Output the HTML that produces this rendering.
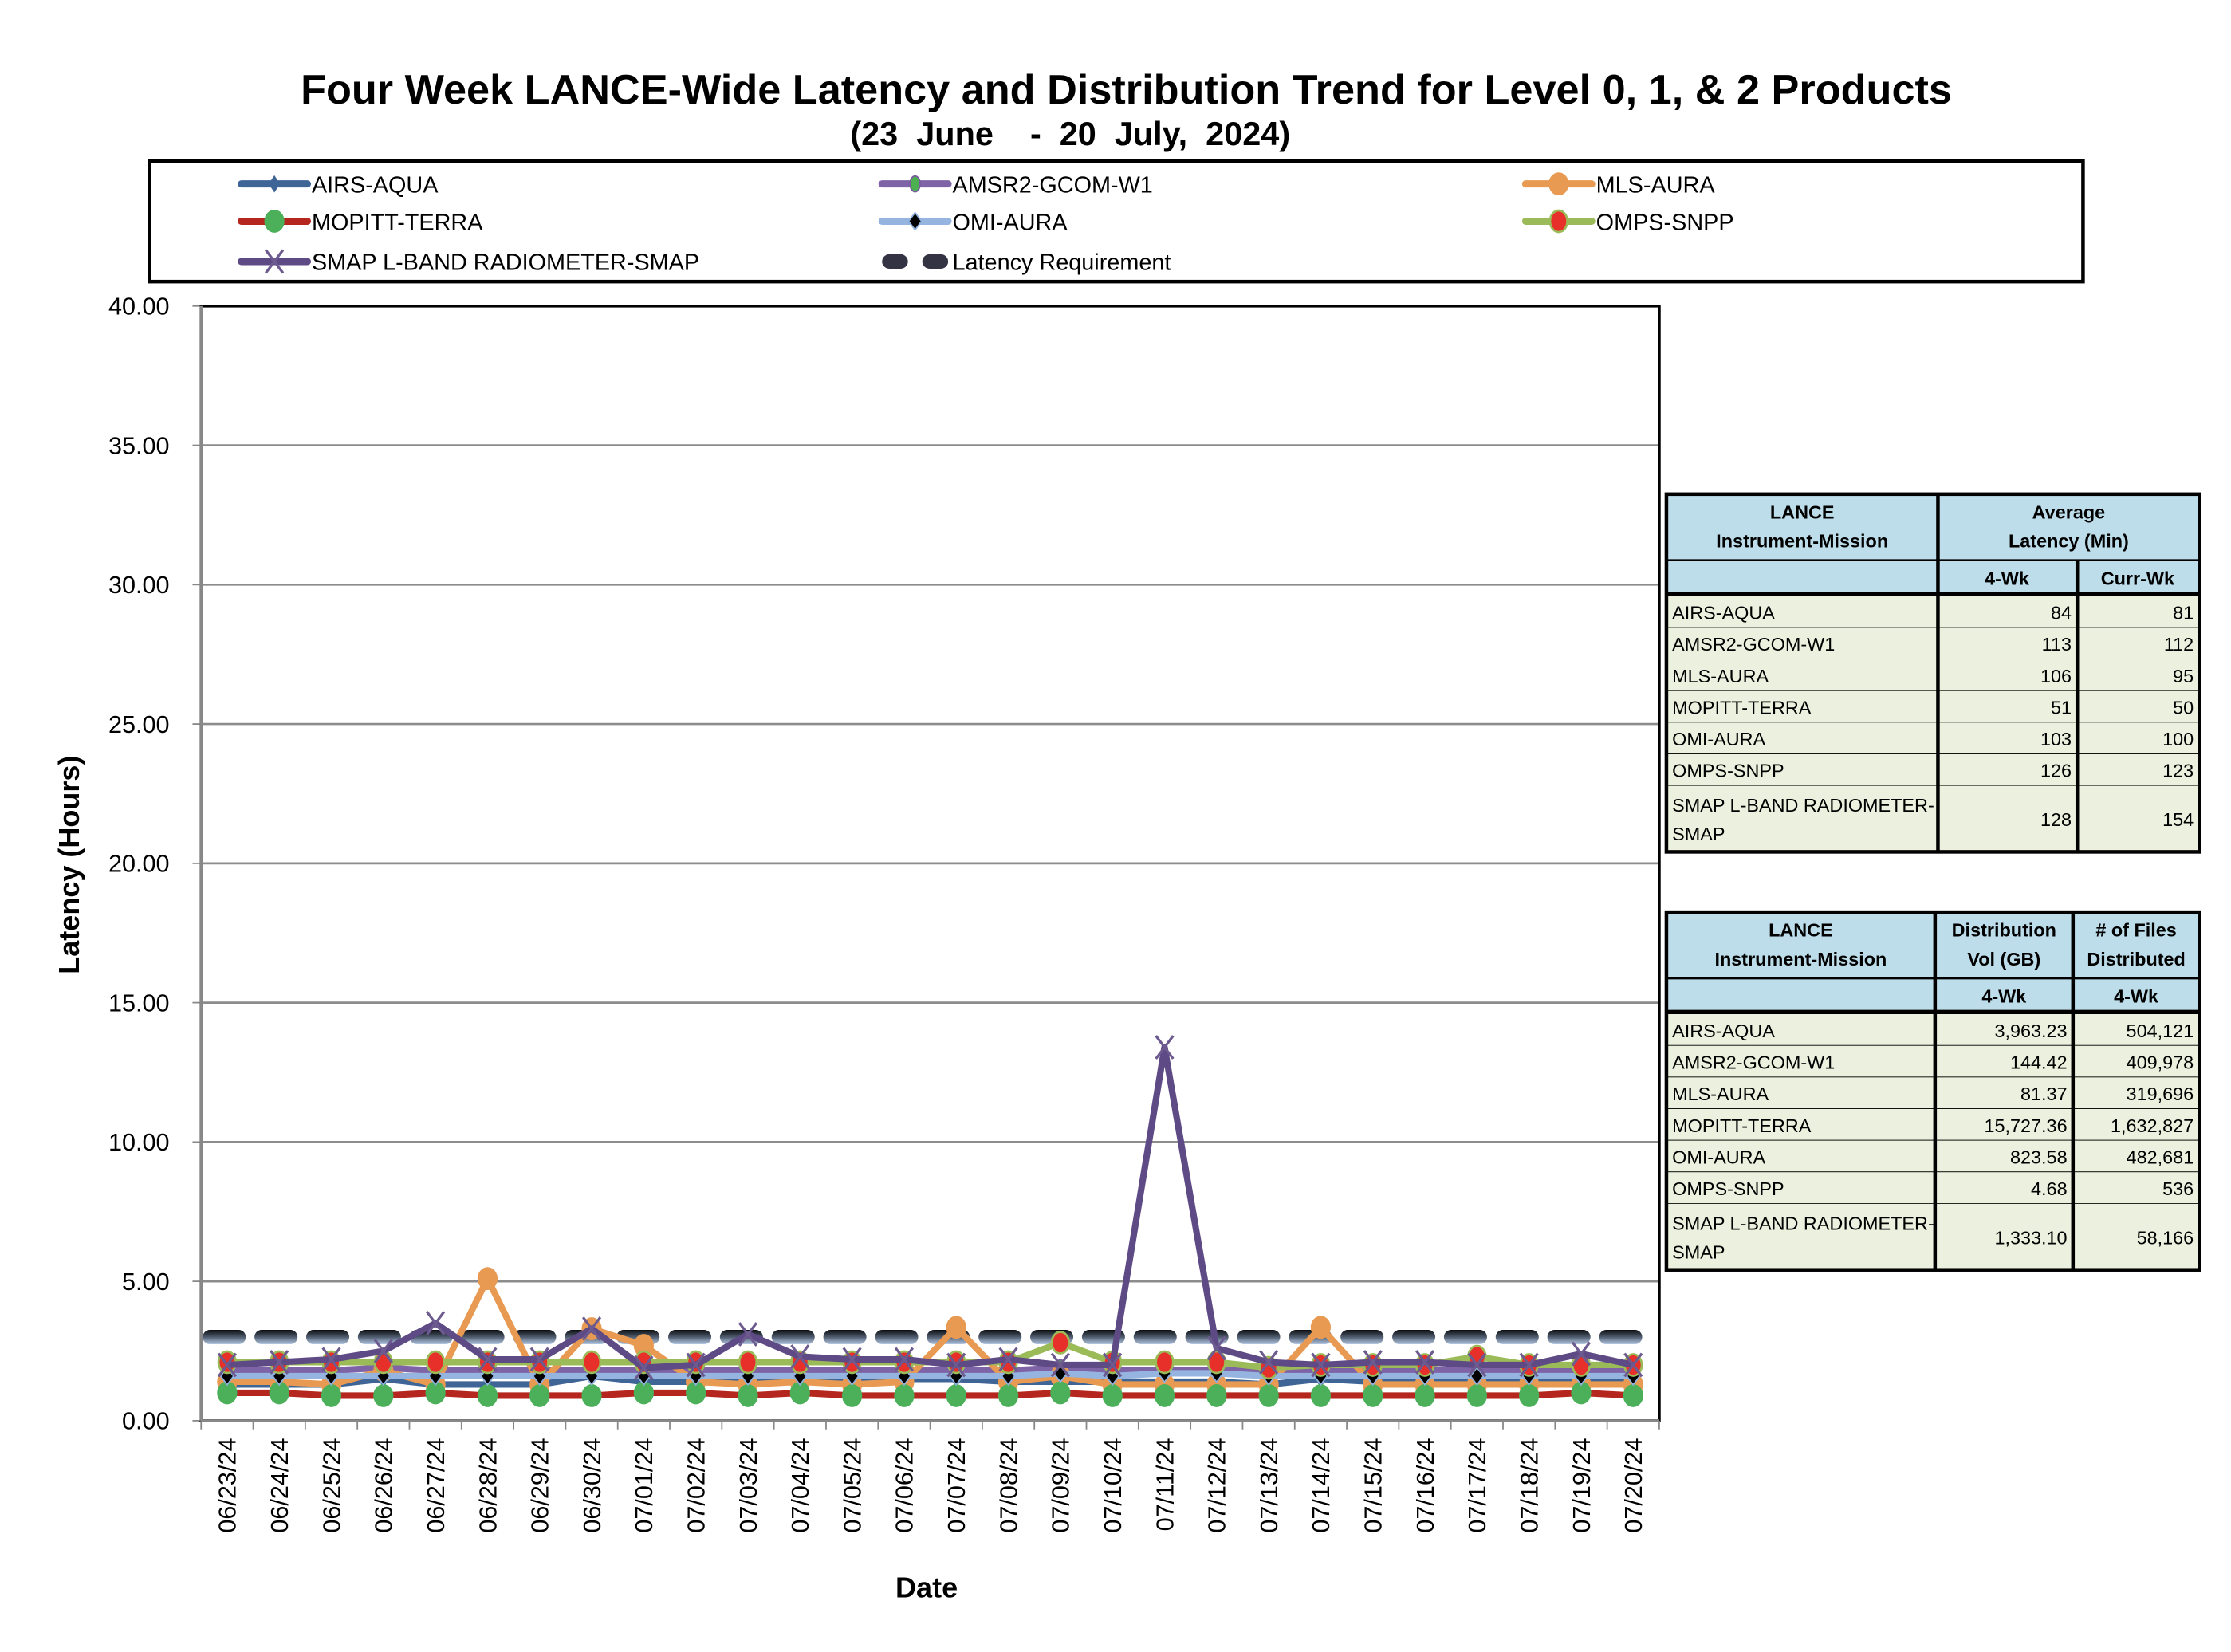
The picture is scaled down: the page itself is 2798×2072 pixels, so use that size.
<!DOCTYPE html>
<html><head><meta charset="utf-8"><style>
html,body{margin:0;padding:0;background:#fff;}
svg{display:block;font-family:"Liberation Sans",Arial,sans-serif;}
</style></head><body>
<svg id="chart" width="2798" height="2072" viewBox="0 0 1553 1150" xmlns="http://www.w3.org/2000/svg">
<defs>
<linearGradient id="reqGrad" gradientUnits="userSpaceOnUse" x1="0" y1="925" x2="0" y2="936">
<stop offset="0" stop-color="#000"/><stop offset="0.5" stop-color="#4a5668"/><stop offset="1" stop-color="#b8cde8"/>
</linearGradient>
</defs>
<text x="784" y="72" text-anchor="middle" font-size="29" font-weight="bold">Four Week LANCE-Wide Latency and Distribution Trend for Level 0, 1, &amp; 2 Products</text>
<text x="745" y="101" text-anchor="middle" font-size="23" font-weight="bold" xml:space="preserve">(23  June    -  20  July,  2024)</text>
<rect x="104" y="112" width="1346" height="84" fill="#fff" stroke="#000" stroke-width="2.5"/>
<g id="legend"></g>
<g id="grid"></g>
<g id="series"></g>
<g id="tables"></g>
<text transform="translate(55,602) rotate(-90)" text-anchor="middle" font-size="20" font-weight="bold">Latency (Hours)</text>
<text x="645" y="1112" text-anchor="middle" font-size="20" font-weight="bold">Date</text>
</svg>
<script>
const categories = ["06/23/24","06/24/24","06/25/24","06/26/24","06/27/24","06/28/24","06/29/24","06/30/24","07/01/24","07/02/24","07/03/24","07/04/24","07/05/24","07/06/24","07/07/24","07/08/24","07/09/24","07/10/24","07/11/24","07/12/24","07/13/24","07/14/24","07/15/24","07/16/24","07/17/24","07/18/24","07/19/24","07/20/24"];
const yTicks = [0,5,10,15,20,25,30,35,40];
const airsAqua = [1.3,1.3,1.3,1.5,1.3,1.3,1.3,1.6,1.4,1.4,1.4,1.5,1.5,1.5,1.5,1.4,1.4,1.4,1.4,1.4,1.3,1.5,1.4,1.4,1.4,1.4,1.4,1.4];
const amsr2 = [1.8,1.8,1.8,1.9,1.8,1.8,1.8,1.8,1.8,1.8,1.8,1.8,1.8,1.8,1.8,1.8,1.9,1.8,1.8,1.8,1.8,1.8,1.8,1.8,1.8,1.8,1.8,1.8];
const mlsAura = [1.4,1.4,1.3,1.8,1.3,5.1,1.3,3.3,2.7,1.4,1.3,1.4,1.3,1.4,3.35,1.4,1.6,1.3,1.3,1.3,1.3,3.35,1.3,1.3,1.3,1.3,1.3,1.3];
const mopitt = [1.0,1.0,0.9,0.9,1.0,0.9,0.9,0.9,1.0,1.0,0.9,1.0,0.9,0.9,0.9,0.9,1.0,0.9,0.9,0.9,0.9,0.9,0.9,0.9,0.9,0.9,1.0,0.9];
const omiAura = [1.6,1.6,1.6,1.6,1.6,1.6,1.6,1.6,1.6,1.6,1.6,1.6,1.6,1.6,1.6,1.6,1.7,1.6,1.7,1.7,1.6,1.6,1.6,1.6,1.6,1.6,1.6,1.6];
const ompsSnpp = [2.1,2.1,2.1,2.1,2.1,2.1,2.1,2.1,2.1,2.1,2.1,2.1,2.1,2.1,2.1,2.1,2.8,2.1,2.1,2.1,1.9,2.0,2.0,2.0,2.3,2.0,2.0,2.0];
const smap = [2.0,2.1,2.2,2.5,3.5,2.2,2.2,3.3,1.9,2.0,3.1,2.3,2.2,2.2,2.0,2.2,2.0,2.0,13.4,2.6,2.1,2.0,2.1,2.1,2.0,2.0,2.4,2.0];
const requirement = [3,3,3,3,3,3,3,3,3,3,3,3,3,3,3,3,3,3,3,3,3,3,3,3,3,3,3,3];
const avgRows = [["AIRS-AQUA","84","81"],["AMSR2-GCOM-W1","113","112"],["MLS-AURA","106","95"],["MOPITT-TERRA","51","50"],["OMI-AURA","103","100"],["OMPS-SNPP","126","123"],["SMAP L-BAND RADIOMETER-|SMAP","128","154"]];
const distRows = [["AIRS-AQUA","3,963.23","504,121"],["AMSR2-GCOM-W1","144.42","409,978"],["MLS-AURA","81.37","319,696"],["MOPITT-TERRA","15,727.36","1,632,827"],["OMI-AURA","823.58","482,681"],["OMPS-SNPP","4.68","536"],["SMAP L-BAND RADIOMETER-|SMAP","1,333.10","58,166"]];

const NS="http://www.w3.org/2000/svg";
const PL=140,PR=1155,PT=213,PB=989;
function xS(i){return PL+(PR-PL)/categories.length*(i+0.5);}
function yS(v){return PB-(PB-PT)*v/40;}
function mk(tag,attrs,parent,text){const e=document.createElementNS(NS,tag);for(const k in attrs)e.setAttribute(k,attrs[k]);if(text!==undefined)e.textContent=text;parent.appendChild(e);return e;}

const grid=document.getElementById('grid');
yTicks.forEach(t=>{
  if(t>0){const g=mk('line',{x1:PL,x2:PR,y1:yS(t),y2:yS(t),stroke:'#8c8c8c','stroke-width':1.5},grid);
  
  }
  const lb=mk('text',{x:118,y:yS(t)+6,'text-anchor':'end','font-size':17},grid,t.toFixed(2));
  
  
  mk('line',{x1:PL-6,x2:PL,y1:yS(t),y2:yS(t),stroke:'#888','stroke-width':1},grid);
});
const frame=mk('rect',{x:PL,y:PT,width:PR-PL,height:PB-PT,fill:'none',stroke:'#000','stroke-width':2},grid);


mk('line',{x1:PL,x2:PL,y1:PT,y2:PB,stroke:'#888','stroke-width':2},grid);
mk('line',{x1:PL,x2:PR,y1:PB,y2:PB,stroke:'#888','stroke-width':2},grid);
categories.forEach((c,i)=>{
  const bx=PL+(PR-PL)/categories.length*i;
  mk('line',{x1:bx,x2:bx,y1:PB,y2:PB+6,stroke:'#888','stroke-width':1},grid);
  const t=mk('text',{transform:`translate(${xS(i)+6},${PB+12}) rotate(-90)`,'text-anchor':'end','font-size':17},grid,c);
  
  
});
mk('line',{x1:PR,x2:PR,y1:PB,y2:PB+6,stroke:'#888','stroke-width':1},grid);

const S=document.getElementById('series');
function pts(arr){return arr.map((v,i)=>xS(i)+','+yS(v)).join(' ');}
function marker(g,type,x,y){
  if(type==='diamondBlue') mk('polygon',{points:`${x},${y-6} ${x+4},${y} ${x},${y+6} ${x-4},${y}`,fill:'#3f6597'},g);
  else if(type==='circleSmallGreen') mk('ellipse',{cx:x,cy:y,rx:3.5,ry:5.5,fill:'#4caf50',stroke:'#7a5b9e','stroke-width':1},g);
  else if(type==='circleOrange') mk('ellipse',{cx:x,cy:y,rx:7,ry:8,fill:'#e89a52'},g);
  else if(type==='circleGreen') mk('ellipse',{cx:x,cy:y,rx:7,ry:8,fill:'#4caf5a'},g);
  else if(type==='diamondBlack') mk('polygon',{points:`${x},${y-6} ${x+4.5},${y} ${x},${y+6} ${x-4.5},${y}`,fill:'#000',stroke:'#8fb0dd','stroke-width':1},g);
  else if(type==='circleRed') mk('ellipse',{cx:x,cy:y,rx:6,ry:7.5,fill:'#e8302a',stroke:'#9bbb59','stroke-width':1.5},g);
  else if(type==='x'){mk('line',{x1:x-6,y1:y-8,x2:x+6,y2:y+8,stroke:'#6d5b8f','stroke-width':1.8},g);mk('line',{x1:x+6,y1:y-8,x2:x-6,y2:y+8,stroke:'#6d5b8f','stroke-width':1.8},g);}
}
const reqG=mk('g',{},S);


mk('polyline',{points:(xS(0)-12)+','+yS(requirement[0])+' '+pts(requirement)+' '+(xS(categories.length-1)+12)+','+yS(requirement[0]),fill:'none',stroke:'url(#reqGrad)','stroke-width':10,'stroke-linecap':'round','stroke-dasharray':'20 16'},reqG);
const seriesDefs=[
  ['series-airs-aqua',airsAqua,'#3f6597','diamondBlue'],
  ['series-amsr2-gcom-w1',amsr2,'#7e63a6','circleSmallGreen'],
  ['series-mls-aura',mlsAura,'#e89a52','circleOrange'],
  ['series-mopitt-terra',mopitt,'#b5261e','circleGreen'],
  ['series-omi-aura',omiAura,'#95b4e0','diamondBlack'],
  ['series-omps-snpp',ompsSnpp,'#9bbb59','circleRed'],
  ['series-smap',smap,'#5e4a85','x']
];
seriesDefs.forEach(d=>{
  const g=mk('g',{},S);
  
  
  mk('polyline',{points:pts(d[1]),fill:'none',stroke:d[2],'stroke-width':4.5,'stroke-linejoin':'round'},g);
  d[1].forEach((v,i)=>marker(g,d[3],xS(i),yS(v)));
});

// legend
const L=document.getElementById('legend');
const legendItems=[
  ['AIRS-AQUA','#3f6597','diamondBlue',168,128],['AMSR2-GCOM-W1','#7e63a6','circleSmallGreen',614,128],['MLS-AURA','#e89a52','circleOrange',1062,128],
  ['MOPITT-TERRA','#b5261e','circleGreen',168,154],['OMI-AURA','#95b4e0','diamondBlack',614,154],['OMPS-SNPP','#9bbb59','circleRed',1062,154],
  ['SMAP L-BAND RADIOMETER-SMAP','#5e4a85','x',168,182],['Latency Requirement','req','req',614,182]
];
legendItems.forEach(it=>{
  const g=mk('g',{},L);
  
  
  const x=it[3],y=it[4];
  if(it[1]==='req'){
    mk('rect',{x:x,y:y-5,width:18,height:10,rx:5,fill:'#334'},g);
    mk('rect',{x:x+28,y:y-5,width:18,height:10,rx:5,fill:'#334'},g);
  } else {
    mk('line',{x1:x,x2:x+46,y1:y,y2:y,stroke:it[1],'stroke-width':5,'stroke-linecap':'round'},g);
    marker(g,it[2],x+23,y);
  }
  mk('text',{x:x+49,y:y+6,'font-size':16},g,it[0]);
});

// tables
const T=document.getElementById('tables');
function table(name,top,cols,h1,h2,rows){
  const g=mk('g',{},T);
  
  
  const x0=cols[0],x3=cols[3];
  const hy=top, sy=top+46, ry=sy+22;
  mk('rect',{x:x0,y:hy,width:x3-x0,height:68,fill:'#bcdde9'},g);
  const rH=[22,22,22,22,22,22,46];
  let yy=ry+3;
  rows.forEach((r,ri)=>{
    mk('rect',{x:x0,y:yy,width:x3-x0,height:rH[ri],fill:'#ebf1de'},g);
    const lines=r[0].split('|');
    if(lines.length===1) mk('text',{x:x0+4,y:yy+16,'font-size':13},g,lines[0]);
    else {mk('text',{x:x0+4,y:yy+18,'font-size':13},g,lines[0]);mk('text',{x:x0+4,y:yy+38,'font-size':13},g,lines[1]);}
    const cy = lines.length===1? yy+16 : yy+28;
    mk('text',{x:cols[2]-4,y:cy,'font-size':13,'text-anchor':'end'},g,r[1]);
    mk('text',{x:cols[3]-4,y:cy,'font-size':13,'text-anchor':'end'},g,r[2]);
    mk('line',{x1:x0,x2:x3,y1:yy+rH[ri],y2:yy+rH[ri],stroke:'#000','stroke-width':1},g);
    yy+=rH[ri];
  });
  // header texts
  mk('text',{x:(cols[0]+cols[1])/2,y:hy+17,'font-size':13,'font-weight':'bold','text-anchor':'middle'},g,'LANCE');
  mk('text',{x:(cols[0]+cols[1])/2,y:hy+37,'font-size':13,'font-weight':'bold','text-anchor':'middle'},g,'Instrument-Mission');
  h1.forEach(h=>{h[1].forEach((s,k)=>mk('text',{x:h[0],y:hy+17+20*k,'font-size':13,'font-weight':'bold','text-anchor':'middle'},g,s));});
  h2.forEach(h=>mk('text',{x:h[0],y:sy+17,'font-size':13,'font-weight':'bold','text-anchor':'middle'},g,h[1]));
  // borders
  mk('rect',{x:x0,y:hy,width:x3-x0,height:yy-hy,fill:'none',stroke:'#000','stroke-width':2.5},g);
  mk('line',{x1:x0,x2:x3,y1:sy,y2:sy,stroke:'#000','stroke-width':1.5},g);
  mk('line',{x1:x0,x2:x3,y1:ry+1.5,y2:ry+1.5,stroke:'#000','stroke-width':3},g);
  mk('line',{x1:cols[1],x2:cols[1],y1:hy,y2:yy,stroke:'#000','stroke-width':2.5},g);
  mk('line',{x1:cols[2],x2:cols[2],y1:h1.length===1?sy:hy,y2:yy,stroke:'#000','stroke-width':2.5},g);
}
table('average-latency-table',344,[1160,1349,1446,1531],[[1440,['Average','Latency (Min)']]],[[1397,'4-Wk'],[1488,'Curr-Wk']],avgRows);
table('distribution-table',635,[1160,1347,1443,1531],[[1395,['Distribution','Vol (GB)']],[1487,['# of Files','Distributed']]],[[1395,'4-Wk'],[1487,'4-Wk']],distRows);
</script>
</body></html>
